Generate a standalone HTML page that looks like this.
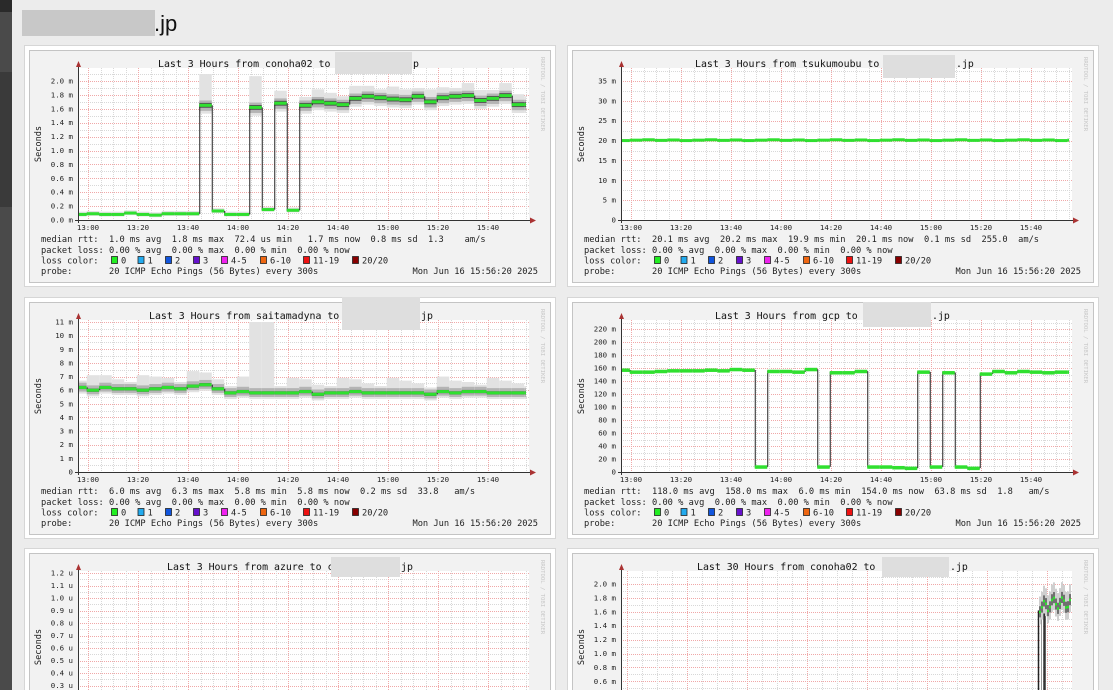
<!DOCTYPE html>
<html><head><meta charset="utf-8">
<style>
html,body{margin:0;padding:0;background:#ececec;width:1113px;height:690px;overflow:hidden;}
svg{position:absolute;left:0;top:0;}
text{font-family:"DejaVu Sans Mono","Liberation Mono",monospace;white-space:pre;}
</style></head>
<body>
<svg id="s" width="1113" height="690" xmlns="http://www.w3.org/2000/svg">
<rect x="0" y="0" width="12" height="690" fill="#4a4a4a"/>
<rect x="0" y="0" width="12" height="12" fill="#2a2a2a"/>
<rect x="0" y="72" width="12" height="135" fill="#3a3a3a"/>
<rect x="22" y="10" width="133" height="26" fill="#c8c8c8"/>
<text x="154" y="31" style="font-family:'Liberation Sans',sans-serif;font-size:22px" fill="#111">.jp</text>
</svg>
<script>
var S=document.getElementById('s');var NS='http://www.w3.org/2000/svg';
function el(t,a,txt){var e=document.createElementNS(NS,t);for(var k in a)e.setAttribute(k,a[k]);if(txt!==undefined){e.setAttributeNS('http://www.w3.org/XML/1998/namespace','xml:space','preserve');e.textContent=txt;}S.appendChild(e);return e;}
function panel(c){
 var ox=c.ox,oy=c.oy;
 el('rect',{x:ox+24.5,y:oy+45.5,width:531,height:241,fill:'#fff',stroke:'#d6d6d6'});
 el('rect',{x:ox+29.5,y:oy+50.5,width:521,height:232,fill:'#f2f2f2',stroke:'#c4c4c4'});
 var ax=ox+78,bot=oy+220,top=oy+68,W=451;
 el('rect',{x:ax,y:top,width:W,height:bot-top,fill:'#fff'});
 function Y(v){return bot-v*c.sc;}
 for(var v=c.minor;Y(v)>=top-0.5;v+=c.minor){var yy=Math.round(Y(v))+0.5;
   var maj=Math.abs(v/c.major-Math.round(v/c.major))<1e-6;
   el('line',{x1:ax,x2:ax+W,y1:yy,y2:yy,stroke:maj?'#f0a8a8':'#d8d8d8','stroke-dasharray':'1,1','stroke-width':1});}
 var vs=c.vstep||12.5,v0=c.v0||10,vm=c.vmaj||4;
 for(var i=0;;i++){var x=ax+v0+vs*(i-Math.floor(v0/vs));if(x>ax+W)break;if(x<ax)continue;
   var idx=Math.round((x-ax-v0)/vs);var maj=((idx%vm)+vm)%vm==0;
   el('line',{x1:Math.round(x)+0.5,x2:Math.round(x)+0.5,y1:top,y2:bot,stroke:maj?'#f0a8a8':'#d8d8d8','stroke-dasharray':'1,1'});}
 if(c.data){var d=c.data,prev=null;
  for(var k=0;k<d.length;k++){
   var x0=Math.max(ax,ax+12.5*k-3.75),x1=Math.min(ax+448,ax+12.5*(k+1)-3.75);if(x1<=x0)continue;
   var m=d[k],s=c.sp(m,k);
   el('rect',{x:x0,y:Y(m+s[0]),width:x1-x0,height:Y(m-s[1])-Y(m+s[0]),fill:'#e2e2e2'});
   el('rect',{x:x0,y:Y(m+s[2]),width:x1-x0,height:Y(m-s[3])-Y(m+s[2]),fill:'#b4b4b4'});
   el('rect',{x:x0,y:Y(m+s[4]),width:x1-x0,height:Math.max(1,Y(m-s[4])-Y(m+s[4])),fill:'#505050'});
   if(prev!==null){el('line',{x1:x0+0.5,x2:x0+0.5,y1:Y(prev),y2:Y(m),stroke:'#222','stroke-width':1});}
   el('rect',{x:x0,y:Y(m)-1.5,width:x1-x0,height:c.gw||3,fill:'#2fe02f'});
   prev=m;}
 }
 if(c.extra)c.extra(ax,Y,top,bot);
 el('line',{x1:ax+0.5,x2:ax+0.5,y1:oy+64,y2:bot+3,stroke:'#333'});
 el('line',{x1:ax-3,x2:ax+W+2,y1:bot+0.5,y2:bot+0.5,stroke:'#333'});
 el('path',{d:'M'+(ax-2)+' '+(oy+67)+'L'+(ax+3)+' '+(oy+67)+'L'+(ax+0.5)+' '+(oy+61)+'Z',fill:'#a33'});
 el('path',{d:'M'+(ax+W+1)+' '+(bot-2.5)+'L'+(ax+W+1)+' '+(bot+3.5)+'L'+(ax+W+7)+' '+(bot+0.5)+'Z',fill:'#a33'});
 for(var j=0;j<c.yl.length;j++){el('text',{x:ax-5,y:Y(c.yl[j][0])+2.5,'font-size':'7.4','text-anchor':'end',fill:'#222'},c.yl[j][1]);}
 if(c.xl!==false){var xs=['13:00','13:20','13:40','14:00','14:20','14:40','15:00','15:20','15:40'];
  for(var j=0;j<xs.length;j++)el('text',{x:ax+10+50*j,y:oy+230,'font-size':'7.4','text-anchor':'middle',fill:'#222'},xs[j]);}
 el('text',{x:0,y:0,'font-size':'8.6','text-anchor':'middle',fill:'#222',transform:'translate('+(ox+41)+','+(oy+144)+') rotate(-90)'},'Seconds');
 el('text',{x:0,y:0,'font-size':'5.6','fill':'#c8c8c8',transform:'translate('+(ox+541)+','+(oy+57)+') rotate(90)'},'RRDTOOL / TOBI OETIKER');
 el('text',{x:c.tx,y:oy+67,'font-size':'9.9',fill:'#111'},c.title);
 el('rect',{x:c.bx[0],y:c.bx[1],width:c.bx[2],height:c.bx[3],fill:'#dedede'});
 el('text',{x:c.bx[0]+c.bx[2]+1,y:oy+67,'font-size':'9.9',fill:'#111'},c.tail);
 if(c.leg){var L=ox+41,fs='8.7';
  el('text',{x:L,y:oy+242,'font-size':fs,fill:'#222'},c.leg[0]);
  el('text',{x:L,y:oy+253,'font-size':fs,fill:'#222'},c.leg[1]);
  el('text',{x:L,y:oy+263.5,'font-size':fs,fill:'#222'},'loss color:');
  var sw=[[111,'#22ee22','0'],[137.5,'#22aaee','1'],[165,'#1155dd','2'],[193,'#6611cc','3'],[221,'#ee22ee','4-5'],[260,'#ee6611','6-10'],[303,'#ee1111','11-19'],[352,'#880000','20/20']];
  for(var j=0;j<sw.length;j++){el('rect',{x:ox+sw[j][0]+0.5,y:oy+256.5,width:6,height:7,fill:sw[j][1],stroke:'#222','stroke-width':0.8});
   el('text',{x:ox+sw[j][0]+10,y:oy+263.5,'font-size':fs,fill:'#222'},sw[j][2]);}
  el('text',{x:L,y:oy+274,'font-size':fs,fill:'#222'},'probe:       20 ICMP Echo Pings (56 Bytes) every 300s');
  el('text',{x:ox+538,y:oy+274,'font-size':fs,fill:'#222','text-anchor':'end'},'Mon Jun 16 15:56:20 2025');}
}
function lbl(a,b,st,f){var r=[];for(var v=a;v<=b+1e-9;v+=st)r.push([v,f(v)]);return r;}
var PL='packet loss: 0.00 % avg  0.00 % max  0.00 % min  0.00 % now';
var d1=[.08,.09,.08,.08,.1,.08,.07,.09,.09,.09,1.65,.13,.08,.08,1.62,.15,1.68,.14,1.65,1.70,1.68,1.66,1.75,1.78,1.76,1.74,1.73,1.78,1.70,1.76,1.78,1.79,1.72,1.75,1.79,1.66,1.66];
panel({ox:0,oy:0,sc:69.5,minor:.1,major:.2,yl:lbl(0,2.0001,.2,function(v){return v.toFixed(1)+' m'}),data:d1,
 sp:function(m,k){if(m<1)return [.04,.03,.02,.02,.01];var a=(k==10||k==14)?.45:.12+((k*5)%3)*0.03;return [a,.12,.07,.08,.035];},
 tx:158,title:'Last 3 Hours from conoha02 to',bx:[335,52,77,22],tail:'p',
 leg:['median rtt:  1.0 ms avg  1.8 ms max  72.4 us min   1.7 ms now  0.8 ms sd  1.3    am/s',PL]});
var d2=[];for(var i=0;i<37;i++)d2.push(20.1+((i*7)%5-2)*0.05);
panel({ox:543,oy:0,sc:139/35,minor:2.5,major:5,yl:lbl(0,35,5,function(v){return v==0?'0':v+' m'}),data:d2,
 sp:function(){return [.3,.3,.2,.2,.1]},
 tx:695,title:'Last 3 Hours from tsukumoubu to',bx:[883,55,72,23],tail:'.jp',
 leg:['median rtt:  20.1 ms avg  20.2 ms max  19.9 ms min  20.1 ms now  0.1 ms sd  255.0  am/s',PL]});
var d3=[6.2,6.0,6.2,6.1,6.1,6.0,6.1,6.2,6.1,6.3,6.4,6.1,5.8,5.9,5.8,5.8,5.8,5.8,5.9,5.7,5.8,5.8,5.9,5.8,5.8,5.8,5.8,5.8,5.7,5.9,5.8,5.9,5.9,5.8,5.8,5.8,5.8];
panel({ox:0,oy:252,sc:150/11,minor:.5,major:1,yl:lbl(0,11,1,function(v){return v==0?'0':v+' m'}),data:d3,
 sp:function(m,k){var h=(k==14||k==15)?11-m:0.5+((k*3)%4)*0.2;return [h,.45,.35,.3,.12];},
 tx:149,title:'Last 3 Hours from saitamadyna to',bx:[342,297,78,33],tail:'jp',
 leg:['median rtt:  6.0 ms avg  6.3 ms max  5.8 ms min  5.8 ms now  0.2 ms sd  33.8   am/s',PL]});
var d4=[157,154,154,155,156,156,156,157,156,158,157,8,155,155,154,158,8,153,153,155,8,8,7,6,154,8,153,8,6,151,155,153,155,154,153,154,154];
panel({ox:543,oy:252,sc:143/220,minor:10,major:20,yl:lbl(0,220,20,function(v){return v==0?'0':v+' m'}),data:d4,
 sp:function(){return [1.5,1.5,1,1,.5]},gw:3.5,
 tx:715,title:'Last 3 Hours from gcp to',bx:[863,302,68,25],tail:'.jp',
 leg:['median rtt:  118.0 ms avg  158.0 ms max  6.0 ms min  154.0 ms now  63.8 ms sd  1.8   am/s',PL]});
panel({ox:0,oy:503,sc:125,minor:.05,major:.1,yl:lbl(.1,1.2001,.1,function(v){return v.toFixed(1)+' u'}),
 tx:167,title:'Last 3 Hours from azure to c',bx:[331,557,69,20],tail:'jp'});
panel({ox:543,oy:503,sc:69.5,minor:.1,major:.2,yl:lbl(0,2.0001,.2,function(v){return v.toFixed(1)+' m'}),
 vstep:15,v0:6,vmaj:4,xl:false,
 extra:function(ax,Y,top,bot){
  el('line',{x1:1038.5,x2:1038.5,y1:Y(1.62),y2:bot,stroke:'#222','stroke-width':1.5});
  el('line',{x1:1044.5,x2:1044.5,y1:Y(1.66),y2:bot,stroke:'#333','stroke-width':2.5});
  el('line',{x1:1041.5,x2:1041.5,y1:Y(1.64),y2:bot,stroke:'#999','stroke-width':1});
  for(var x=1039;x<1071;x+=2){var m=1.68+0.08*Math.sin(x*0.7)+((x-1039)>8?0.05:0);
   el('rect',{x:x,y:Y(m+.22),width:2,height:.4*69.5,fill:'#cfcfcf'});
   el('rect',{x:x,y:Y(m+.08),width:2,height:.16*69.5,fill:'#707070'});
   el('rect',{x:x,y:Y(m)-1,width:2,height:2.5,fill:'#2fe02f'});}
 },
 tx:697,title:'Last 30 Hours from conoha02 to',bx:[882,557,67,20],tail:'.jp'});
</script>
</body></html>
